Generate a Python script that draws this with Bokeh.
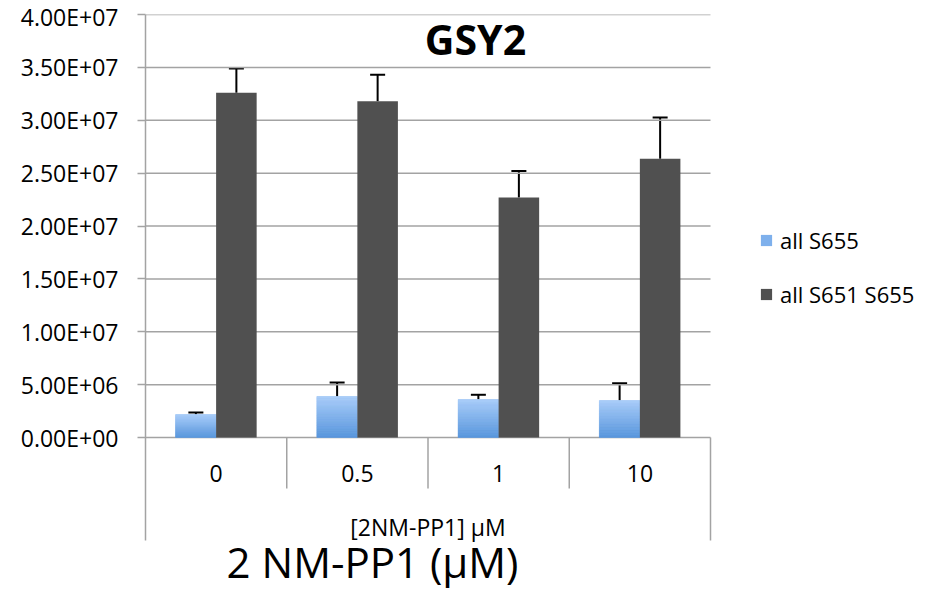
from bokeh.plotting import figure
from bokeh.models import (ColumnDataSource, Range1d, FixedTicker, Whisker, TeeHead,
                          Legend, LegendItem, Label)
from bokeh.core.properties import value
from bokeh.embed import file_html
from bokeh.resources import INLINE

# ---------------- data ----------------
categories = ["0", "0.5", "1", "10"]
s655 = [2.17e6, 3.88e6, 3.59e6, 3.50e6]
s655_err = [0.20e6, 1.32e6, 0.45e6, 1.63e6]
s651_s655 = [3.26e7, 3.18e7, 2.27e7, 2.635e7]
s651_s655_err = [0.23e7, 0.25e7, 0.25e7, 0.39e7]
series_names = ["all S655", "all S651 S655"]
ytick_values = [0, 5000000, 10000000, 15000000, 20000000, 25000000, 30000000, 35000000, 40000000]
ytick_labels = ["0.00E+00", "5.00E+06", "1.00E+07", "1.50E+07", "2.00E+07",
                "2.50E+07", "3.00E+07", "3.50E+07", "4.00E+07"]
group_label = "[2NM-PP1] μM"
axis_title = "2 NM-PP1 (μM)"
chart_title = "GSY2"

# ---------------- layout helpers ----------------
FONT = "Open Sans"
GREY = "#a3a3a3"
YMAX = 40000000
PX_PER_UNIT = 423 / YMAX          # plot area: 423px for 0..4e7
CAT_PX = 565 / 4                  # px per category
def py(px_below_zero):             # pixels below the baseline -> data units
    return -px_below_zero / PX_PER_UNIT
def px(px_right_of_axis):          # pixels right of the y axis -> data units
    return px_right_of_axis / CAT_PX

n = len(categories)
FRAME_W, FRAME_H = 799, 581
x_end = px(FRAME_W)
y_bottom = py(FRAME_H - 423)
bar_w = 0.287
off = 0.1434
xc = [i + 0.5 for i in range(n)]
x_blue = [x - off for x in xc]
x_dark = [x + off for x in xc]

p = figure(frame_width=FRAME_W, frame_height=FRAME_H,
           x_range=Range1d(0, x_end), y_range=Range1d(y_bottom, YMAX),
           output_backend="svg", toolbar_location=None,
           x_axis_location=None, y_axis_location="left",
           min_border_left=145, min_border_right=0,
           min_border_top=14, min_border_bottom=0)
p.outline_line_color = None
p.background_fill_color = "white"
p.border_fill_color = "white"

# y axis
yax = p.yaxis[0]
yax.ticker = FixedTicker(ticks=ytick_values)
yax.major_label_overrides = {v: l for v, l in zip(ytick_values, ytick_labels)}
yax.bounds = (py(103), YMAX)
yax.axis_line_color = GREY
yax.axis_line_width = 1.5
yax.major_tick_line_color = GREY
yax.major_tick_line_width = 1.5
yax.major_tick_out = 8
yax.major_tick_in = 0
yax.minor_tick_line_color = None
yax.major_label_standoff = 19
yax.major_label_text_font = FONT
yax.major_label_text_font_size = "23px"
yax.major_label_text_color = "black"

for g in p.grid:
    g.visible = False
# horizontal gridlines limited to the plot area
p.segment(x0=0, x1=n, y0=ytick_values, y1=ytick_values, line_color=GREY, line_width=1.5)

# ---------------- bars ----------------
src_blue = ColumnDataSource(dict(x=x_blue, top=s655, up=[v + e for v, e in zip(s655, s655_err)]))
src_dark = ColumnDataSource(dict(x=x_dark, top=s651_s655, up=[v + e for v, e in zip(s651_s655, s651_s655_err)]))

r_blue = p.vbar(x="x", top="top", bottom=0, width=bar_w, source=src_blue,
                fill_color="#7eb0ec", line_color=None)
# gradient overlay for the blue bars (light at top, darker at bottom)
N = 24
c_bot = (88, 150, 220)
c_top = (170, 205, 249)
gx, gb, gt, gc = [], [], [], []
for x, v in zip(x_blue, s655):
    for k in range(N):
        t = (k + 0.5) / N
        col = tuple(int(round(c_bot[j] + (c_top[j] - c_bot[j]) * t)) for j in range(3))
        gx.append(x)
        gb.append(v * k / N)
        gt.append(v * (k + 1) / N)
        gc.append("#%02x%02x%02x" % col)
p.vbar(x=gx, bottom=gb, top=gt, width=bar_w, fill_color=gc, line_color=gc, line_width=0.5)

r_dark = p.vbar(x="x", top="top", bottom=0, width=bar_w, source=src_dark,
                fill_color="#505050", line_color=None)

# error bars (upper only)
for src in (src_blue, src_dark):
    w = Whisker(base="x", lower="top", upper="up", source=src, dimension="height",
                line_color="black", line_width=2,
                upper_head=TeeHead(size=15, line_color="black", line_width=2),
                lower_head=None)
    p.add_layout(w)

# ---------------- category axis ----------------
p.segment(x0=[1, 2, 3], y0=0, x1=[1, 2, 3], y1=py(51), line_color=GREY, line_width=1.5)
p.segment(x0=[n], y0=0, x1=[n], y1=py(103), line_color=GREY, line_width=1.5)

p.text(x=xc, y=py(36), text=categories, text_align="center", text_baseline="middle",
       text_font=value(FONT), text_font_size="23px", text_color="black")
p.text(x=[n / 2], y=py(89), text=[group_label], text_align="center", text_baseline="middle",
       text_font=value(FONT), text_font_size="23px", text_color="black")

# chart title inside plot area
p.text(x=[px(475 - 145)], y=[(437 - 38) / PX_PER_UNIT], text=[chart_title],
       text_align="center", text_baseline="middle", text_font=value(FONT),
       text_font_size="41px", text_font_style="bold", text_color="black")

# axis title
p.add_layout(Label(x=px(372 - 145), y=py(124), x_units="data", y_units="data",
                   text=axis_title, text_align="center", text_baseline="middle",
                   text_font=FONT, text_font_size="42px", text_color="black"))

# legend
legend = Legend(items=[LegendItem(label=series_names[0], renderers=[r_blue]),
                       LegendItem(label=series_names[1], renderers=[r_dark])],
                location=(614, 286), orientation="vertical",
                glyph_width=14, glyph_height=14, label_standoff=7, spacing=24,
                padding=0, margin=0, border_line_color=None, background_fill_alpha=0,
                label_text_font=FONT, label_text_font_size="22px", label_text_color="black")
p.add_layout(legend)

open("out.html", "w").write(file_html(p, INLINE))
